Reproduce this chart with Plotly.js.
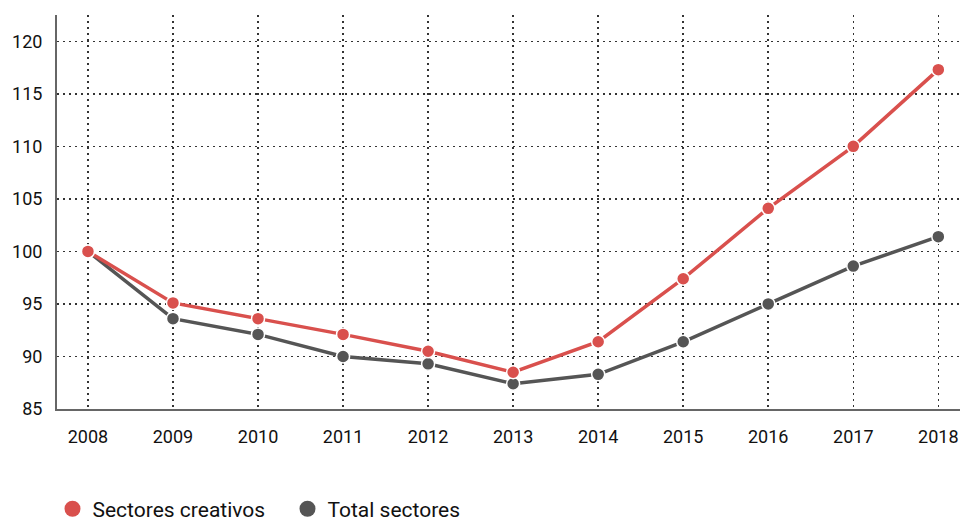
<!DOCTYPE html>
<html><head><meta charset="utf-8">
<script src="https://cdn.plot.ly/plotly-3.0.1.min.js"></script>
<style>html,body{margin:0;padding:0;background:#fff}#c{width:960px;height:521px}</style>
</head><body><div id="c"></div>
<script>
const years = [2008, 2009, 2010, 2011, 2012, 2013, 2014, 2015, 2016, 2017, 2018];
const creativos = [100, 95.1, 93.6, 92.1, 90.5, 88.5, 91.4, 97.4, 104.1, 110.0, 117.3];
const total = [100, 93.6, 92.1, 90.0, 89.3, 87.4, 88.3, 91.4, 95.0, 98.6, 101.4];
const yTicks = [85, 90, 95, 100, 105, 110, 115, 120];
const seriesNames = ['Sectores creativos', 'Total sectores'];

const red = '#d9504d', gray = '#555555';
function line(y, color, name) {
  return {x: years, y: y, name: name, mode: 'lines+markers', showlegend: false,
    line: {color: color, width: 3.5},
    marker: {color: color, size: 13, line: {color: '#ffffff', width: 1.5}},
    cliponaxis: false, hoverinfo: 'x+y'};
}
function leg(color, name) {
  return {x: [null], y: [null], name: name, mode: 'markers', showlegend: true,
    marker: {color: color, size: 20}};
}
const data = [line(total, gray, seriesNames[1]), line(creativos, red, seriesNames[0]),
  leg(red, seriesNames[0]), leg(gray, seriesNames[1])];
const layout = {
  width: 960, height: 521,
  margin: {l: 57, r: 0, t: 15, b: 112, autoexpand: false},
  paper_bgcolor: '#fff', plot_bgcolor: '#fff',
  font: {family: 'Roboto, "Liberation Sans", sans-serif', size: 18, color: '#111'},
  xaxis: {range: [2007.636, 2018.255], tickvals: years, ticktext: years.map(String),
    showgrid: true, gridcolor: '#333', griddash: '1.5px,4.5px', gridwidth: 1.5,
    showline: true, linecolor: '#666', linewidth: 2, zeroline: false,
    ticks: '', ticklabelstandoff: 10, fixedrange: true},
  yaxis: {range: [85, 122.5], tickvals: yTicks,
    showgrid: true, gridcolor: '#333', griddash: '1.5px,4.5px', gridwidth: 1.5,
    showline: true, linecolor: '#666', linewidth: 2, zeroline: false,
    ticks: '', ticklabelstandoff: 9, fixedrange: true},
  legend: {orientation: 'h', x: -0.005, xanchor: 'left', y: -0.254, yanchor: 'middle',
    font: {size: 21, color: '#111'}, itemwidth: 30, traceorder: 'normal',
    entrywidth: 190, entrywidthmode: 'pixels'},
  showlegend: true
};
Plotly.newPlot('c', data, layout, {displayModeBar: false, staticPlot: true});
</script></body></html>
